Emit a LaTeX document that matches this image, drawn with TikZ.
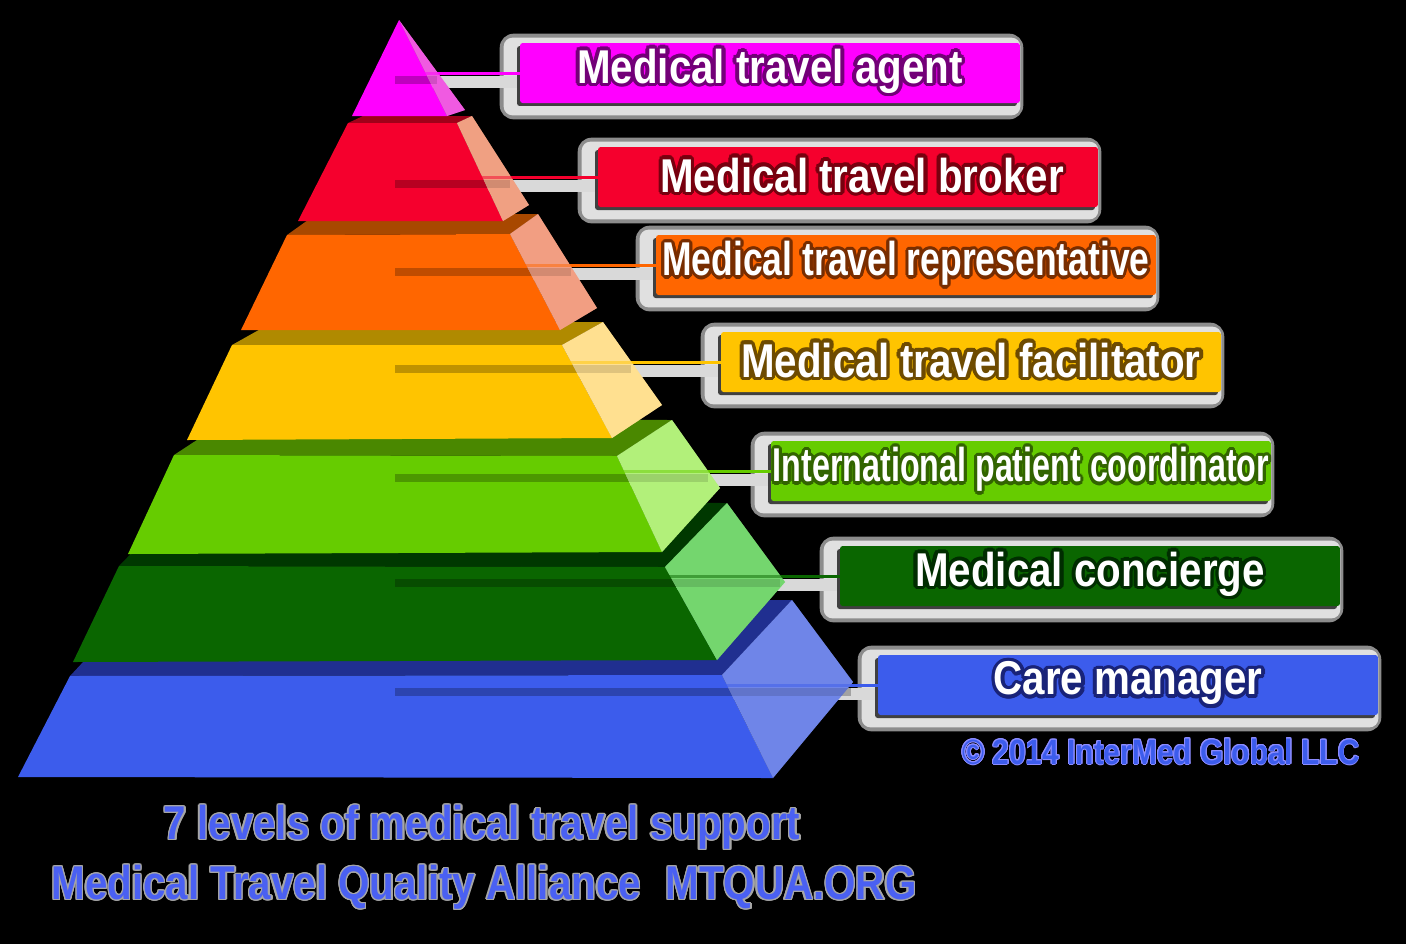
\documentclass[tikz,border=0pt]{standalone}
\usepackage{fontspec}
\usepackage[copies]{contour}
\usepackage{tikz}
\usetikzlibrary{calc}
\usetikzlibrary{shadows}

\newfontfamily\lblfont[FakeStretch=0.85]{Liberation Sans}
\contourlength{2pt}

\pgfdeclarelayer{back}
\pgfdeclarelayer{glow}
\pgfsetlayers{back,glow,main}

\definecolor{agentc}{RGB}{255,0,255}
\definecolor{agentside}{RGB}{240,90,225}
\definecolor{agentdk}{RGB}{115,0,120}
\definecolor{brokerc}{RGB}{245,0,45}
\definecolor{brokertop}{RGB}{160,0,25}
\definecolor{brokerside}{RGB}{240,160,130}
\definecolor{brokerdk}{RGB}{120,0,15}
\definecolor{repc}{RGB}{255,102,0}
\definecolor{reptop}{RGB}{168,72,0}
\definecolor{repside}{RGB}{242,158,130}
\definecolor{repdk}{RGB}{120,45,0}
\definecolor{facilc}{RGB}{255,196,0}
\definecolor{faciltop}{RGB}{176,138,0}
\definecolor{facilside}{RGB}{255,224,144}
\definecolor{facildk}{RGB}{110,75,0}
\definecolor{coordc}{RGB}{102,204,0}
\definecolor{coordtop}{RGB}{74,136,0}
\definecolor{coordside}{RGB}{178,240,122}
\definecolor{coorddk}{RGB}{50,100,0}
\definecolor{concc}{RGB}{10,102,0}
\definecolor{conctop}{RGB}{0,56,0}
\definecolor{concside}{RGB}{116,214,110}
\definecolor{concdk}{RGB}{0,45,0}
\definecolor{carec}{RGB}{60,92,236}
\definecolor{caretop}{RGB}{32,47,144}
\definecolor{careside}{RGB}{111,133,232}
\definecolor{caredk}{RGB}{25,35,120}
\definecolor{titleblue}{RGB}{74,96,242}

\begin{document}
\begin{tikzpicture}[x=0.02cm, y=-0.02cm,
	lbl/.style={rounded corners=1.5pt, minimum width=10cm, minimum height=1.2cm, inner sep=0pt,
		text=white, font=\lblfont\bfseries\fontsize{27}{30}\selectfont,
		general shadow={fill=black!75, shadow xshift=-0.06cm, shadow yshift=-0.06cm}},
	glowbox/.style={fill=white!88!black, rounded corners=5pt},
	glowout/.style={fill=white!55!black, rounded corners=8pt},
	halo/.style={line width=0.24cm, white!85!black},
	dim/.style={line width=0.16cm, black, opacity=0.25},
	lnk/.style={line width=0.06cm}]

	\begin{pgfonlayer}{back}
		\fill[black] (0,0) rectangle (1406,944);
	\end{pgfonlayer}
	\useasboundingbox (0,0) rectangle (1406,944);

	% label boxes
	\node (agent) at (770,73) [lbl, fill=agentc] {\contour{agentdk}{Medical travel agent}};
	\node (broker) at (848,177) [lbl, fill=brokerc] {\hspace*{16pt}\contour{brokerdk}{Medical travel broker}};
	\node (rep) at (906,265) [lbl, fill=repc] {\scalebox{0.88}[1]{\contour{repdk}{Medical travel representative}}};
	\node (facil) at (971,362) [lbl, fill=facilc] {\contour{facildk}{Medical travel facilitator}};
	\node (coord) at (1021,471) [lbl, fill=coordc] {\scalebox{0.8}[1]{\contour{coorddk}{International patient coordinator}}};
	\node (conc) at (1090,576) [lbl, fill=concc] {\contour{concdk}{Medical concierge}};
	\node (care) at (1128,685) [lbl, fill=carec] {\contour{caredk}{Care manager}};

	% start of each connector, and where it leaves the pyramid
	\coordinate (c1) at (395,73);  \coordinate (e1) at (437,73);
	\coordinate (c2) at (395,177); \coordinate (e2) at (510,177);
	\coordinate (c3) at (395,265); \coordinate (e3) at (571,265);
	\coordinate (c4) at (395,362); \coordinate (e4) at (631,362);
	\coordinate (c5) at (395,471); \coordinate (e5) at (708,471);
	\coordinate (c6) at (395,576); \coordinate (e6) at (780,576);
	\coordinate (c7) at (395,685); \coordinate (e7) at (851,685);

	\begin{pgfonlayer}{glow}
		\foreach \c/\b in {c1/agent, c2/broker, c3/rep, c4/facil, c5/coord, c6/conc, c7/care} {
			\fill[glowout] ($(\b.north west)+(-20,-9)$) rectangle ($(\b.south east)+(3,16)$);
			\fill[glowbox] ($(\b.north west)+(-16,-5)$) rectangle ($(\b.south east)+(0,12)$);
			\draw[halo] ($(\c)+(0,9)$) -- ($(\c -| \b.west)+(0,9)$);
		}
	\end{pgfonlayer}

	% care manager
	\fill[caretop] (70,676) -- (722,675) -- (792,600) -- (140,601) -- cycle;
	\fill[carec] (70,676) -- (722,675) -- (773,778) -- (18,777) -- cycle;
	\fill[careside] (722,675) -- (792,600) -- (853,682) -- (773,778) -- cycle;
	% concierge
	\fill[conctop] (119,566) -- (665,567) -- (727,503) -- (181,502) -- cycle;
	\fill[concc] (119,566) -- (665,567) -- (717,660) -- (73,662) -- cycle;
	\fill[concside] (665,567) -- (727,503) -- (785,582) -- (717,660) -- cycle;
	% coordinator
	\fill[coordtop] (174,455) -- (617,456) -- (672,420) -- (229,419) -- cycle;
	\fill[coordc] (174,455) -- (617,456) -- (662,552) -- (128,554) -- cycle;
	\fill[coordside] (617,456) -- (672,420) -- (720,488) -- (662,552) -- cycle;
	% facilitator
	\fill[faciltop] (232,345) -- (562,345) -- (603,322) -- (273,322) -- cycle;
	\fill[facilc] (232,345) -- (562,345) -- (612,438) -- (187,440) -- cycle;
	\fill[facilside] (562,345) -- (603,322) -- (662,405) -- (612,438) -- cycle;
	% representative
	\fill[reptop] (287,235) -- (510,234) -- (538,214) -- (315,215) -- cycle;
	\fill[repc] (287,235) -- (510,234) -- (560,330) -- (241,330) -- cycle;
	\fill[repside] (510,234) -- (538,214) -- (597,308) -- (560,330) -- cycle;
	% broker
	\fill[brokertop] (348,123) -- (457,123) -- (472,116) -- (363,116) -- cycle;
	\fill[brokerc] (348,123) -- (457,123) -- (503,221) -- (298,221) -- cycle;
	\fill[brokerside] (457,123) -- (472,116) -- (529,205) -- (503,221) -- cycle;
	% agent
	\fill[agentc] (399,20) -- (447,116) -- (352,116) -- cycle;
	\fill[agentside] (399,20) -- (465,110) -- (447,116) -- cycle;

	% connectors
	\foreach \c/\e in {c1/e1, c2/e2, c3/e3, c4/e4, c5/e5, c6/e6, c7/e7}
		\draw[dim] ($(\c)+(0,7)$) -- ($(\e)+(0,7)$);
	\draw[lnk, agentc] (c1) -- (c1 -| agent.west);
	\draw[lnk, brokerc] (c2) -- (c2 -| broker.west);
	\draw[lnk, repc] (c3) -- (c3 -| rep.west);
	\draw[lnk, facilc] (c4) -- (c4 -| facil.west);
	\draw[lnk, coordc] (c5) -- (c5 -| coord.west);
	\draw[lnk, concc] (c6) -- (c6 -| conc.west);
	\draw[lnk, carec] (c7) -- (c7 -| care.west);

	% side faces once more, see-through, over the connectors
	\fill[careside, opacity=0.5] (722,675) -- (792,600) -- (853,682) -- (773,778) -- cycle;
	\fill[concside, opacity=0.5] (665,567) -- (727,503) -- (785,582) -- (717,660) -- cycle;
	\fill[coordside, opacity=0.5] (617,456) -- (672,420) -- (720,488) -- (662,552) -- cycle;
	\fill[facilside, opacity=0.5] (562,345) -- (603,322) -- (662,405) -- (612,438) -- cycle;
	\fill[repside, opacity=0.5] (510,234) -- (538,214) -- (597,308) -- (560,330) -- cycle;
	\fill[brokerside, opacity=0.5] (457,123) -- (472,116) -- (529,205) -- (503,221) -- cycle;
	\fill[agentside, opacity=0.5] (399,20) -- (465,110) -- (447,116) -- cycle;

	% captions
	\node (copy) at (1161,752) [text=carec, font=\lblfont\bfseries\fontsize{20}{24}\selectfont]
		{\contourlength{0.5pt}\contour{white!55!blue}{© 2014 InterMed Global LLC}};
	\node (title) at (482,828) [text=titleblue, font=\lblfont\bfseries\fontsize{27}{30}\selectfont]
		{\contourlength{0.8pt}\contour{gray!70}{7 levels of medical travel support}};
	\node (alliance) at (484,888) [text=titleblue, font=\lblfont\bfseries\fontsize{27}{30}\selectfont]
		{\contourlength{0.8pt}\contour{gray!70}{Medical Travel Quality Alliance\hspace{14pt}MTQUA.ORG}};
\end{tikzpicture}
\end{document}
